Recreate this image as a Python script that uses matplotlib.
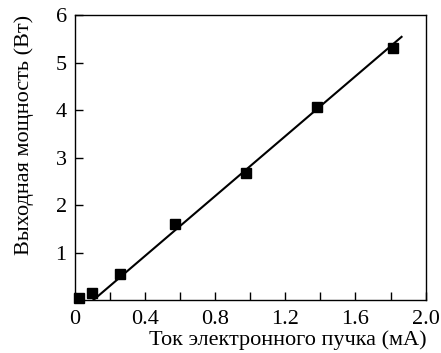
import matplotlib.pyplot as plt
import numpy as np
from matplotlib.ticker import MultipleLocator

plt.rcParams['font.family'] = ['Liberation Serif', 'DejaVu Serif']

# Measured points
current_ma = [0.023, 0.095, 0.257, 0.571, 0.977, 1.38, 1.813]
power_w = [0.05, 0.14, 0.55, 1.61, 2.68, 4.07, 5.30]

# Linear fit line endpoints
fit_x = [0.105, 1.863]
fit_y = [0.0, 5.54]

fig = plt.figure(figsize=(4.41, 3.53), dpi=100)
ax = fig.add_axes([0.170, 0.150, 0.795, 0.8075])

ax.plot(fit_x, fit_y, color='black', lw=1.5, zorder=2)
ax.plot(current_ma, power_w, 's', color='black', ms=6.5, zorder=3, clip_on=False)

ax.set_xlim(0, 2.0)
ax.set_ylim(0, 6)
ax.set_xticks([0, 0.4, 0.8, 1.2, 1.6, 2.0])
ax.set_xticklabels(['0', '0.4', '0.8', '1.2', '1.6', '2.0'])
ax.xaxis.set_minor_locator(MultipleLocator(0.2))
ax.set_yticks([1, 2, 3, 4, 5, 6])
ax.set_yticklabels(['1', '2', '3', '4', '5', '6'])

ax.tick_params(which='both', direction='in', top=False, right=False,
               length=6, width=1, labelsize=16)
ax.tick_params(axis='x', which='both', pad=7)
ax.tick_params(axis='y', which='both', pad=6)
for s in ax.spines.values():
    s.set_linewidth(1.0)

ax.set_xlabel('Ток электронного пучка (мА)', fontsize=16, va='top')
ax.xaxis.set_label_coords(0.606, -0.105)
ax.set_ylabel('Выходная мощность (Вт)', fontsize=16)
ax.yaxis.set_label_coords(-0.118, 0.58)

fig.savefig('out.png', dpi=100)
